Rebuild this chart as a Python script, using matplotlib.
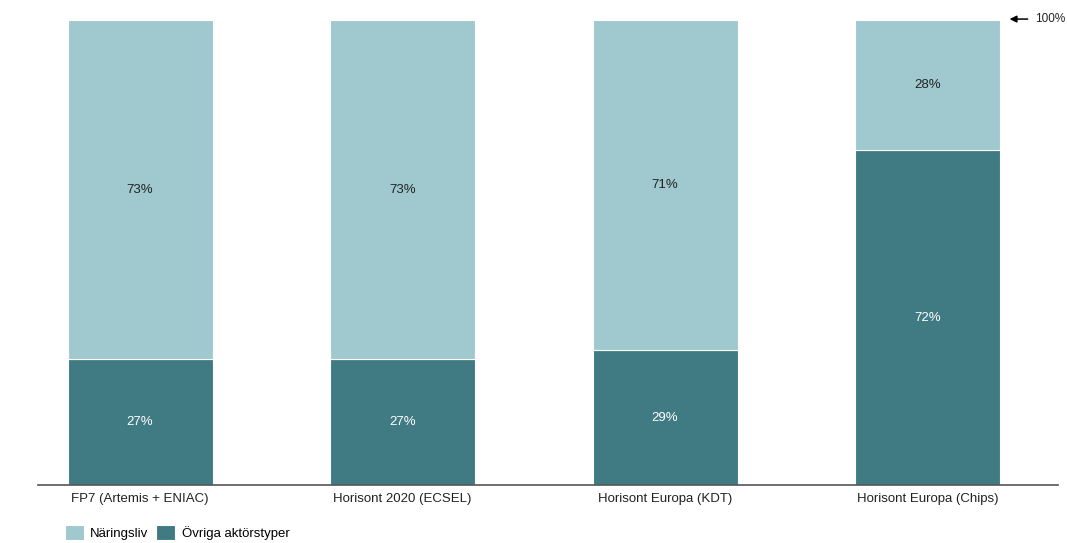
import matplotlib.pyplot as plt

plt.rcParams['font.family'] = ['Liberation Sans', 'DejaVu Sans']

categories = ["FP7 (Artemis + ENIAC)", "Horisont 2020 (ECSEL)",
              "Horisont Europa (KDT)", "Horisont Europa (Chips)"]
ovriga = [27, 27, 29, 72]
naringsliv = [73, 73, 71, 28]

light = "#9fc9cf"
dark = "#407b84"

fig = plt.figure(figsize=(10.67, 5.43), dpi=100)
ax = fig.add_axes([38 / 1067, 58 / 543, 1020 / 1067, 465 / 543])

x = range(len(categories))
b1 = ax.bar(x, ovriga, width=0.552, color=dark, edgecolor="white", linewidth=0.8,
            label="Övriga aktörstyper")
b2 = ax.bar(x, naringsliv, bottom=ovriga, width=0.552, color=light, edgecolor="white",
            linewidth=0.8, label="Näringsliv")

for i in x:
    ax.text(i, ovriga[i] / 2, f"{ovriga[i]}%", ha="center", va="center",
            color="white", fontsize=9.5)
    ax.text(i, ovriga[i] + naringsliv[i] / 2, f"{naringsliv[i]}%", ha="center",
            va="center", color="#222222", fontsize=9.5)

ax.set_xlim(-0.389, 3.497)
ax.set_ylim(0, 100)
ax.set_xticks(list(x))
ax.set_xticklabels(categories, fontsize=9.5, color="#222222")
ax.tick_params(axis="x", length=0, pad=6)
ax.set_yticks([])
for s in ["top", "left", "right"]:
    ax.spines[s].set_visible(False)
ax.spines["bottom"].set_color("#555555")
ax.spines["bottom"].set_linewidth(1.2)

# 100 % marker outside the plot area
ax.annotate("", xy=(3.302, 100.2), xytext=(3.392, 100.2), annotation_clip=False,
            arrowprops=dict(arrowstyle="-|>", color="black", lw=1.1, mutation_scale=10))
ax.text(3.41, 100.2, "100%", ha="left", va="center", fontsize=8.5,
        color="#222222", clip_on=False)

fig.legend(handles=[b2, b1], loc="lower left", bbox_to_anchor=(0.05, -0.016),
           ncol=2, frameon=False, fontsize=9.5, handlelength=1.4, handleheight=1.3,
           columnspacing=0.6, handletextpad=0.5)

fig.savefig("out.png", dpi=100)
